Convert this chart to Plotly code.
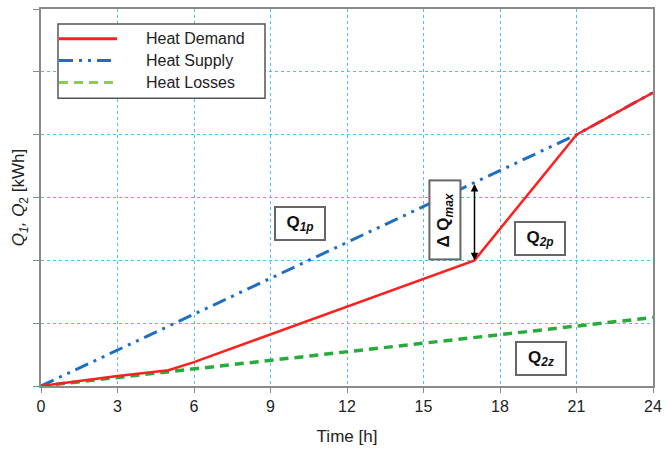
import plotly.graph_objects as go

# ---- data (in grid units, y axis has no numeric labels) ----
demand_t = [0, 3, 5, 6, 17, 21, 24]
demand_q = [0, 0.16, 0.25, 0.38, 2.0, 4.0, 4.67]
supply_t = [0, 21, 24]
supply_q = [0, 4.0, 4.67]
losses_t = [0, 24]
losses_q = [0, 1.09]
x_ticks = [0, 3, 6, 9, 12, 15, 18, 21, 24]
names = ["Heat Demand", "Heat Supply", "Heat Losses"]

RED = "#ff1f1f"
BLUE = "#1f6fc0"
GREEN = "#27ab3c"
GREEN_LEG = "#86d04a"
DASHDOT = "14px,6px,3px,6px,3px,6px"

fig = go.Figure()
fig.add_trace(go.Scatter(x=losses_t, y=losses_q, mode="lines", name=names[2],
                         line=dict(color=GREEN, width=3.5, dash="9px,6px")))
fig.add_trace(go.Scatter(x=supply_t, y=supply_q, mode="lines", name=names[1],
                         line=dict(color=BLUE, width=3, dash=DASHDOT)))
fig.add_trace(go.Scatter(x=demand_t, y=demand_q, mode="lines", name=names[0],
                         line=dict(color=RED, width=2.5)))

L, R, T, B = 41, 17, 7, 63
W, H = 670, 450
pw, ph = W - L - R, H - T - B

def px(x):
    return (x - L) / pw

def py(y):
    return (H - B - y) / ph

shapes = []
annotations = []
# manual legend
shapes.append(dict(type="rect", xref="paper", yref="paper",
                   x0=px(58), x1=px(265), y0=py(97), y1=py(22),
                   line=dict(color="#555555", width=1.5), fillcolor="white"))
leg_styles = [dict(color=RED, width=3, dash="solid"),
              dict(color=BLUE, width=3, dash=DASHDOT),
              dict(color=GREEN_LEG, width=3, dash="9px,6px")]
for i, (nm, st) in enumerate(zip(names, leg_styles)):
    yy = 37 + i * 22
    shapes.append(dict(type="line", xref="paper", yref="paper",
                       x0=px(59), x1=px(117), y0=py(yy), y1=py(yy), line=st))
    annotations.append(dict(xref="paper", yref="paper", x=px(144), y=py(yy),
                            text=nm, showarrow=False, xanchor="left", yanchor="middle",
                            font=dict(size=16, color="#222222")))

# delta Q max arrow
annotations.append(dict(x=17, y=2.0, ax=17, ay=3.24, xref="x", yref="y", axref="x", ayref="y",
                        text="", showarrow=True, arrowhead=2, startarrowhead=2,
                        arrowside="end+start", arrowwidth=1.5, arrowsize=1, arrowcolor="black",
                        standoff=0, startstandoff=0))

box_font = dict(size=17, color="#111111", family="Liberation Sans, Arial")
def box(x, y, text, w, h, angle=0):
    annotations.append(dict(x=x, y=y, xref="x", yref="y", text=text, showarrow=False,
                            bordercolor="#666666", borderwidth=2, bgcolor="white",
                            width=w, height=h, textangle=angle, font=box_font,
                            align="center", valign="middle"))

box(10.15, 2.59, "<b>Q</b><sub><b><i>1p</i></b></sub>", 46, 29)
box(19.57, 2.35, "<b>Q</b><sub><b><i>2p</i></b></sub>", 46, 29)
box(19.6, 0.43, "<b>Q</b><sub><b><i>2z</i></b></sub>", 46, 29)
box(15.84, 2.65, "<b>Δ Q</b><sub><b><i>max</i></b></sub>", 75, 27, -90)

fig.update_layout(
    width=W, height=H,
    margin=dict(l=L, r=R, t=T, b=B),
    paper_bgcolor="white", plot_bgcolor="white",
    showlegend=False,
    font=dict(family="Liberation Sans, Arial", color="#222222"),
    shapes=shapes, annotations=annotations,
    xaxis=dict(range=[0, 24], tickvals=x_ticks, ticktext=[str(v) for v in x_ticks],
               showgrid=True, gridcolor="#4cc0ee", griddash="dot", gridwidth=1,
               showline=True, linecolor="#8a8a8a", linewidth=2, mirror=True,
               ticks="outside", ticklen=5, tickcolor="#8a8a8a",
               tickfont=dict(size=16), zeroline=False,
               title=dict(text="Time [h]", font=dict(size=17), standoff=16)),
    yaxis=dict(range=[0, 6], dtick=1, showticklabels=False,
               showgrid=True, gridcolor="#4cc0ee", griddash="dot", gridwidth=1,
               showline=True, linecolor="#8a8a8a", linewidth=2, mirror=True,
               ticks="outside", ticklen=6, tickcolor="#8a8a8a", zeroline=False,
               title=dict(text="<i>Q</i><sub><i>1</i></sub><i>,</i> <i>Q</i><sub>2</sub> [kWh]",
                          font=dict(size=17), standoff=4)),
)

fig.write_html("out.html")
